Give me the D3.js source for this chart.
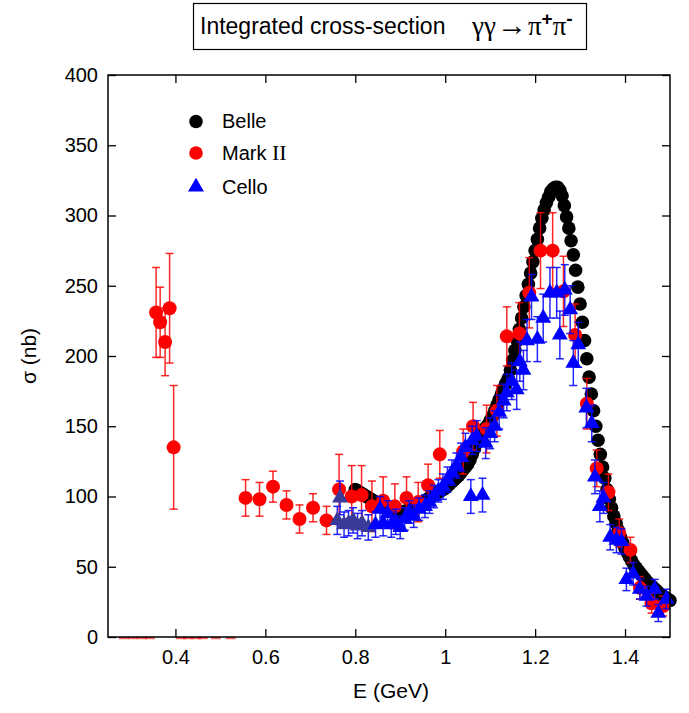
<!DOCTYPE html>
<meta charset="utf-8">
<title>Integrated cross-section</title>
<html>
<style>
body { margin: 0; background: #fff; }
svg { display: block; font-family: "Liberation Sans", Arial, Helvetica, sans-serif; }
</style>
<body>
<svg width="689" height="713"></svg>
<script src="https://d3js.org/d3.v7.min.js"></script>
<script>
// Belle, 5 MeV bins
var belleE = [
  0.800, 0.805, 0.810, 0.815, 0.820, 0.825, 0.830, 0.835, 0.840, 0.845,
  0.850, 0.855, 0.860, 0.865, 0.870, 0.875, 0.880, 0.885, 0.890, 0.895,
  0.900, 0.905, 0.910, 0.915, 0.920, 0.925, 0.930, 0.935, 0.940, 0.945,
  0.950, 0.955, 0.960, 0.965, 0.970, 0.975, 0.980, 0.985, 0.990, 0.995,
  1.000, 1.005, 1.010, 1.015, 1.020, 1.025, 1.030, 1.035, 1.040, 1.045,
  1.050, 1.055, 1.060, 1.065, 1.070, 1.075, 1.080, 1.085, 1.090, 1.095,
  1.100, 1.105, 1.110, 1.115, 1.120, 1.125, 1.130, 1.135, 1.140, 1.145,
  1.150, 1.155, 1.160, 1.165, 1.170, 1.175, 1.180, 1.185, 1.190, 1.195,
  1.200, 1.205, 1.210, 1.215, 1.220, 1.225, 1.230, 1.235, 1.240, 1.245,
  1.250, 1.255, 1.260, 1.265, 1.270, 1.275, 1.280, 1.285, 1.290, 1.295,
  1.300, 1.305, 1.310, 1.315, 1.320, 1.325, 1.330, 1.335, 1.340, 1.345,
  1.350, 1.355, 1.360, 1.365, 1.370, 1.375, 1.380, 1.385, 1.390, 1.395,
  1.400, 1.405, 1.410, 1.415, 1.420, 1.425, 1.430, 1.435, 1.440, 1.445,
  1.450, 1.455, 1.460, 1.465, 1.470, 1.475, 1.480, 1.485, 1.490, 1.495,
  1.500
];
var belleSigma = [
  105, 104, 103, 102, 101, 100, 99, 98, 97, 96,
  95, 94, 93, 92, 91, 90.5, 90, 89.5, 89, 89,
  89, 89, 89.5, 90, 90.5, 91, 92, 93, 94, 95,
  96, 97, 98, 99, 100, 101, 102, 103, 104, 105,
  106, 107.5, 109, 110.5, 112, 113.5, 115, 117, 119, 121,
  123, 126, 130, 134, 138, 141, 144, 147, 149, 151,
  154, 157, 161, 165, 169, 173, 177, 180.5, 184, 190,
  197, 204, 211, 219, 227, 235, 243, 251, 259, 267,
  275, 283, 291, 298, 304, 309, 313, 317, 319, 320,
  320, 318, 314, 307, 299, 291, 282, 272, 261, 249,
  237, 224, 211, 198, 185, 173, 161, 150, 140, 130,
  121, 113, 105, 98, 92, 86, 81, 76, 71, 67,
  63, 60, 57, 54, 51, 49, 47, 45, 43, 41,
  39, 37.5, 36, 34.5, 33, 31.5, 30, 29, 28, 27,
  26
];

// Mark II
var markE = [0.357, 0.366, 0.377, 0.387, 0.396, 0.556, 0.587, 0.617, 0.647, 0.676,
  0.706, 0.736, 0.764, 0.792, 0.814, 0.837, 0.862, 0.888, 0.914, 0.940,
  0.962, 0.988, 1.040, 1.062, 1.092, 1.115, 1.137, 1.165, 1.187, 1.212,
  1.239, 1.263, 1.289, 1.315, 1.337, 1.363, 1.387, 1.412, 1.433, 1.459, 1.485];
var markSigma = [231, 224, 210, 234, 135, 99, 98, 107, 94, 84,
  92, 83, 105, 100, 101, 93, 97, 93, 99, 96,
  108, 130, 132, 150, 148, 161, 214, 216, 245, 275,
  275, 246, 215, 166, 120, 103, 74, 62, 35, 24, 22];
var markErr = [32, 25, 24, 39, 44, 13, 12, 11, 10, 10,
  10, 10, 25, 22, 21, 18, 17, 16, 15, 14,
  15, 17, 16, 17, 17, 18, 21, 22, 25, 27,
  27, 25, 22, 18, 13, 13, 10, 9, 8, 7, 7];
// Mark II bins that sit on the zero line
var markFloorE = [0.285, 0.305, 0.325, 0.343, 0.412, 0.428, 0.446, 0.461, 0.490, 0.523];

// Cello (low-mass group drawn darker)
var celloDarkE = [0.760, 0.766, 0.775, 0.785, 0.795, 0.805, 0.815, 0.829];
var celloDarkSigma = [83, 99, 80, 81, 83, 79, 81, 78];
var celloDarkErr = [10, 12, 9, 9, 9, 9, 9, 9];

var celloE = [0.845, 0.855, 0.862, 0.872, 0.880, 0.890, 0.900, 0.910, 0.920, 0.930,
  0.942, 0.955, 0.965, 0.975, 0.985, 0.995, 1.005, 1.015, 1.025, 1.035,
  1.045, 1.057, 1.060, 1.070, 1.083, 1.090, 1.100, 1.110, 1.120, 1.130,
  1.137, 1.148, 1.159, 1.166, 1.174, 1.182, 1.192, 1.205, 1.218, 1.233,
  1.248, 1.255, 1.266, 1.278, 1.285, 1.296, 1.314, 1.326, 1.333, 1.344,
  1.352, 1.367, 1.381, 1.392, 1.403, 1.418, 1.433, 1.448, 1.466, 1.474, 1.492];
var celloSigma = [80, 91, 81, 88, 80, 82, 78, 84, 89, 86,
  91, 93, 96, 100, 104, 107, 112, 117, 122, 128,
  135, 100, 140, 143, 101, 138, 145, 150, 160, 168,
  174, 182, 176, 196, 190, 211, 242, 212, 227, 245,
  245, 215, 247, 233, 195, 208, 163, 152, 114, 93,
  99, 71, 69, 68, 41, 45, 34, 29, 34, 17, 27];
var celloErr = [9, 9, 9, 9, 9, 9, 8, 8, 8, 8,
  8, 8, 8, 8, 8, 9, 9, 9, 9, 10,
  10, 12, 10, 11, 12, 11, 11, 11, 12, 12,
  13, 13, 14, 14, 14, 15, 16, 16, 17, 18,
  18, 17, 18, 17, 16, 16, 14, 13, 12, 11,
  11, 9, 9, 9, 8, 8, 7, 7, 7, 6, 7];

var xTicks = [0.4, 0.6, 0.8, 1, 1.2, 1.4];
var yTicks = [0, 50, 100, 150, 200, 250, 300, 350, 400];
var legendNames = ["Belle", "Mark", "Cello"];

function zip(e, s, er) {
  return e.map(function(d, i) { return {e: d, s: s[i], err: er ? er[i] : 0}; });
}

var svg = d3.select("svg"),
  m = {left: 108, right: 670, top: 75, bottom: 637};

var x = d3.scaleLinear().domain([0.25, 1.5]).range([m.left, m.right]);
var y = d3.scaleLinear().domain([0, 400]).range([m.bottom, m.top]);

// title box
var tg = svg.append("g");
tg.append("rect")
  .attr("x", 193.5).attr("y", 3.5).attr("width", 393).attr("height", 46)
  .attr("fill", "#fff").attr("stroke", "#000").attr("stroke-width", 1.2);
tg.append("text")
  .attr("x", 200).attr("y", 34)
  .attr("font-size", 23)
  .text("Integrated cross-section");
var serif = "'Liberation Serif', 'Times New Roman', serif";
var f = tg.append("text")
  .attr("x", 472).attr("y", 35)
  .attr("font-family", serif)
  .attr("font-size", 27);
f.append("tspan").text("γγ");
f.append("tspan").attr("dx", 1).attr("font-size", 30).text("→");
f.append("tspan").attr("dx", 1).text("π");
f.append("tspan").attr("dy", -10).attr("font-size", 19).attr("font-weight", "bold")
  .attr("font-family", "'Liberation Sans', Arial, sans-serif").text("+");
f.append("tspan").attr("dy", 10).text("π");
f.append("tspan").attr("dy", -10).attr("font-size", 19).attr("font-weight", "bold")
  .attr("font-family", "'Liberation Sans', Arial, sans-serif").text("-");

// axes, ticks inward on all four sides
function styleAxis(g) {
  g.select(".domain").remove();
  g.selectAll("line").attr("stroke", "#000").attr("stroke-width", 1.3);
  g.selectAll("text").attr("font-size", 20).attr("fill", "#000")
    .attr("font-family", "'Liberation Sans', Arial, sans-serif");
}
svg.append("g").attr("transform", "translate(0," + m.bottom + ")")
  .call(d3.axisBottom(x).tickValues(xTicks).tickSize(-8).tickPadding(13).tickFormat(d3.format("~g")))
  .call(styleAxis);
svg.append("g").attr("transform", "translate(0," + m.top + ")")
  .call(d3.axisTop(x).tickValues(xTicks).tickSize(-8).tickFormat(""))
  .call(styleAxis);
svg.append("g").attr("transform", "translate(" + m.left + ",0)")
  .call(d3.axisLeft(y).tickValues(yTicks).tickSize(-8).tickPadding(10).tickFormat(d3.format("d")))
  .call(styleAxis);
svg.append("g").attr("transform", "translate(" + m.right + ",0)")
  .call(d3.axisRight(y).tickValues(yTicks).tickSize(-8).tickFormat(""))
  .call(styleAxis);

svg.append("text")
  .attr("x", (m.left + m.right) / 2 + 2).attr("y", 698)
  .attr("text-anchor", "middle").attr("font-size", 21)
  .text("E (GeV)");
svg.append("text")
  .attr("transform", "translate(36," + ((m.top + m.bottom) / 2) + ") rotate(-90)")
  .attr("text-anchor", "middle").attr("font-size", 21)
  .text("σ (nb)");

var plot = svg.append("g");

// Belle
plot.append("g").selectAll("circle")
  .data(zip(belleE, belleSigma))
  .enter().append("circle")
    .attr("cx", function(d) { return x(d.e); })
    .attr("cy", function(d) { return y(d.s); })
    .attr("r", 6.8)
    .attr("fill", "#000");

function errorBars(g, data, color, cap) {
  var eb = g.append("g").attr("stroke", color).attr("stroke-width", 1.5).attr("stroke-opacity", 0.85)
    .selectAll("g").data(data).enter().append("g");
  eb.append("line")
    .attr("x1", function(d) { return x(d.e); }).attr("x2", function(d) { return x(d.e); })
    .attr("y1", function(d) { return y(d.s - d.err); })
    .attr("y2", function(d) { return y(d.s + d.err); });
  [-1, 1].forEach(function(k) {
    eb.append("line")
      .attr("x1", function(d) { return x(d.e) - cap; })
      .attr("x2", function(d) { return x(d.e) + cap; })
      .attr("y1", function(d) { return y(d.s + k * d.err); })
      .attr("y2", function(d) { return y(d.s + k * d.err); });
  });
}

// Mark II
var markData = zip(markE, markSigma, markErr);
plot.append("g").attr("stroke", "#f00").attr("stroke-width", 2.5).attr("stroke-opacity", 0.6)
  .selectAll("line").data(markFloorE).enter().append("line")
    .attr("x1", function(d) { return x(d) - 5; })
    .attr("x2", function(d) { return x(d) + 5; })
    .attr("y1", y(0) + 1).attr("y2", y(0) + 1);
errorBars(plot, markData, "#f00", 4);
plot.append("g").selectAll("circle")
  .data(markData)
  .enter().append("circle")
    .attr("cx", function(d) { return x(d.e); })
    .attr("cy", function(d) { return y(d.s); })
    .attr("r", 7)
    .attr("fill", "#f00");

// Cello
var tri = d3.symbol().type(d3.symbolTriangle).size(110);
[[zip(celloDarkE, celloDarkSigma, celloDarkErr), "#3a3a98"],
 [zip(celloE, celloSigma, celloErr), "#0000ff"]].forEach(function(set) {
  errorBars(plot, set[0], "#0000ff", 4);
  plot.append("g").selectAll("path")
    .data(set[0])
    .enter().append("path")
      .attr("d", tri)
      .attr("transform", function(d) { return "translate(" + x(d.e) + "," + y(d.s) + ")"; })
      .attr("fill", set[1]);
});

// frame
svg.append("rect")
  .attr("x", m.left).attr("y", m.top)
  .attr("width", m.right - m.left).attr("height", m.bottom - m.top)
  .attr("fill", "none").attr("stroke", "#000").attr("stroke-width", 1.5);

// legend
var legend = svg.append("g").attr("font-size", 20);
legend.append("circle").attr("cx", 196).attr("cy", 121.5).attr("r", 6.8).attr("fill", "#000");
legend.append("circle").attr("cx", 196).attr("cy", 153).attr("r", 6.8).attr("fill", "#f00");
legend.append("path").attr("d", tri).attr("transform", "translate(196,187)").attr("fill", "#0000ff");
legend.append("text").attr("x", 222).attr("y", 128).text(legendNames[0]);
var mk = legend.append("text").attr("x", 222).attr("y", 160).text(legendNames[1] + " ");
mk.append("tspan").attr("font-family", serif).attr("font-size", 22).text("II");
legend.append("text").attr("x", 222).attr("y", 193.5).text(legendNames[2]);
</script>
</body>
</html>
